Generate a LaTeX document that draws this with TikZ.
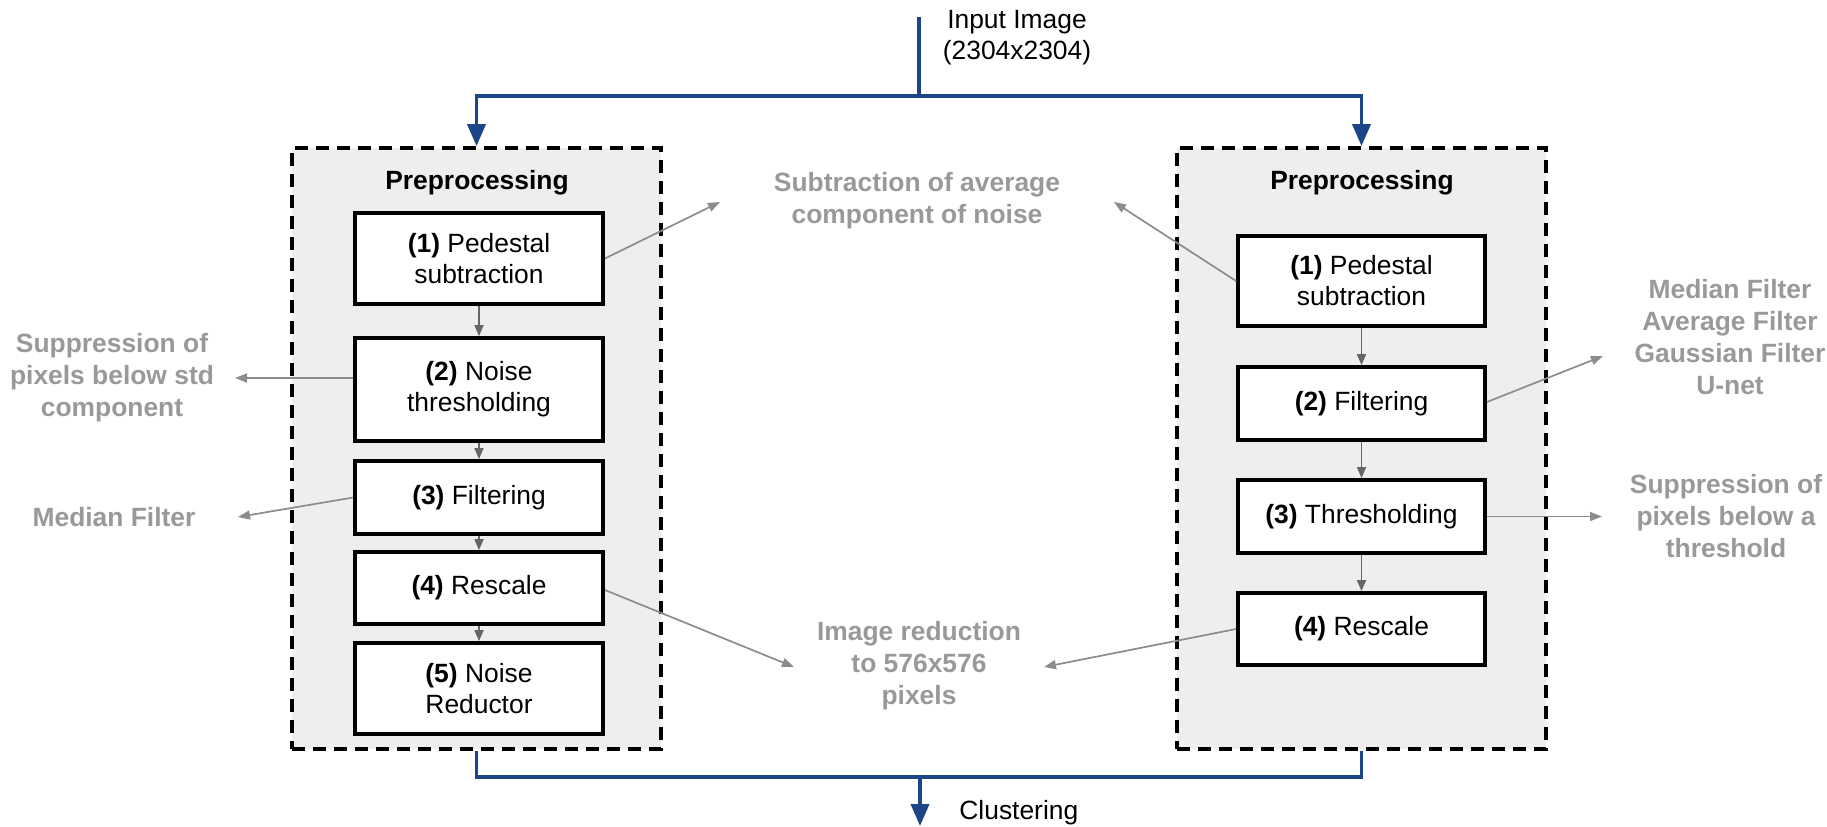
\documentclass[tikz,border=0pt]{standalone}
\usepackage{fontspec}
\setmainfont{Liberation Sans}
\usetikzlibrary{arrows.meta,calc}
\definecolor{dblue}{HTML}{1C4587}
\definecolor{anntext}{HTML}{999999}
\definecolor{annline}{HTML}{8C8C8C}
\definecolor{stepline}{HTML}{666666}
\definecolor{panelfill}{HTML}{EEEEEE}
\begin{document}
\begin{tikzpicture}[x=0.5pt,y=-0.5pt,
  txt/.style={font=\fontsize{13.2pt}{15.5pt}\selectfont, align=center, inner sep=0pt},
  stepbox/.style={txt, draw=black, line width=1.9pt, fill=white, minimum width=124pt},
  panel/.style={draw=black, line width=1.9pt, dash pattern=on 6.5pt off 4pt, fill=panelfill, minimum width=184.5pt, minimum height=300.5pt, inner sep=0pt},
  title/.style={txt, font=\fontsize{13.2pt}{15.5pt}\selectfont\bfseries},
  ann/.style={txt, font=\fontsize{13.2pt}{16pt}\selectfont\bfseries, text=anntext},
  annarrow/.style={draw=annline, line width=0.85pt, -{Triangle[length=6pt,width=4.5pt]}},
  steparrow/.style={draw=stepline, line width=0.85pt, -{Triangle[length=5.5pt,width=4.5pt]}},
  flow/.style={draw=dblue, line width=1.9pt},
  flowarrow/.style={flow, -{Triangle[length=11pt,width=9pt]}}
]
\fill[white] (0,0) rectangle (1827,826);
\useasboundingbox (0,0) rectangle (1827,826);

% panels
\node[panel] (dl) at (476.5,448.5) {};
\node[panel] (dr) at (1361.5,448.5) {};

\node[title] (tl) at (477,183) {Preprocessing};
\node[title] (tr) at (1362,183) {Preprocessing};

% left steps
\node[stepbox, minimum height=45.5pt] (l1) at (479,258.5) {\textbf{(1)} Pedestal\\subtraction};
\node[stepbox, minimum height=51.5pt] (l2) at (479,389.5) {\textbf{(2)} Noise\\thresholding};
\node[stepbox, minimum height=36.5pt] (l3) at (479,497.5) {\textbf{(3)} Filtering};
\node[stepbox, minimum height=36pt] (l4) at (479,588) {\textbf{(4)} Rescale};
\node[stepbox, minimum height=45.5pt] (l5) at (479,688.5) {\textbf{(5)} Noise\\Reductor};

% right steps
\node[stepbox, minimum width=123.5pt, minimum height=45pt] (r1) at (1361.5,281) {\textbf{(1)} Pedestal\\subtraction};
\node[stepbox, minimum width=123.5pt, minimum height=36.5pt] (r2) at (1361.5,403.5) {\textbf{(2)} Filtering};
\node[stepbox, minimum width=123.5pt, minimum height=36.5pt] (r3) at (1361.5,516.5) {\textbf{(3)} Thresholding};
\node[stepbox, minimum width=123.5pt, minimum height=36pt] (r4) at (1361.5,629) {\textbf{(4)} Rescale};

% step arrows
\draw[steparrow] (l1) -- (l2);
\draw[steparrow] (l2) -- (l3);
\draw[steparrow] (l3) -- (l4);
\draw[steparrow] (l4) -- (l5);
\draw[steparrow] (r1) -- (r2);
\draw[steparrow] (r2) -- (r3);
\draw[steparrow] (r3) -- (r4);

% input / output flow
\node[txt, anchor=center] (inp) at (1017,37.5) {Input Image\\(2304x2304)};
\coordinate (in) at (919,17);
\coordinate (j1) at (919,96);
\draw[flow] (in) -- (j1);
\draw[flowarrow] (j1) -| (dl.north);
\draw[flowarrow] (j1) -| (dr.north);

\coordinate (j2) at (920,777);
\coordinate (out) at (920,826);
\draw[flow] (dl.south) |- (j2) -| (dr.south);
\draw[flowarrow] (j2) -- (out);
\node[txt, anchor=west] (clu) at (959,813) {Clustering};

% annotations
\node[ann] (a1) at (917,201) {Subtraction of average\\component of noise};
\node[ann] (a2) at (112,378) {Suppression of\\pixels below std\\component};
\node[ann] (a3) at (114,517) {Median Filter};
\node[ann] (a4) at (919,666) {Image reduction\\to 576x576\\pixels};
\node[ann] (a5) at (1730,337.5) {Median Filter\\Average Filter\\Gaussian Filter\\U-net};
\node[ann] (a6) at (1726,516) {Suppression of\\pixels below a\\threshold};

\coordinate (t1) at (720,202);
\coordinate (t1r) at (1114,202);
\coordinate (t2) at (235,378);
\coordinate (t3) at (238,517);
\coordinate (t4) at (794,667);
\coordinate (t4r) at (1044,667);
\coordinate (t5) at (1603,356);
\coordinate (t6) at (1602,516.5);

\draw[annarrow] (l1.east) -- (t1);
\draw[annarrow] (r1.west) -- (t1r);
\draw[annarrow] ($(l2.west)+(0,-11.5)$) -- (t2);
\draw[annarrow] (l3.west) -- (t3);
\draw[annarrow] ($(l4.east)+(0,2)$) -- (t4);
\draw[annarrow] (r4.west) -- (t4r);
\draw[annarrow] ($(r2.east)+(0,-1.5)$) -- (t5);
\draw[annarrow] (r3.east) -- (t6);
\end{tikzpicture}
\end{document}
